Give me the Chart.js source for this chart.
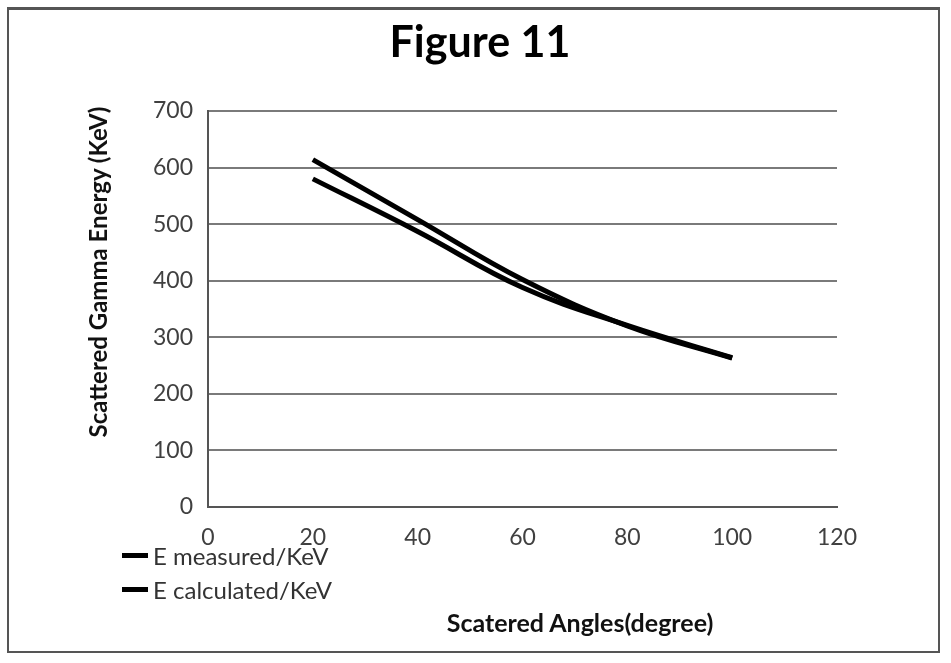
<!DOCTYPE html>
<html>
<head>
<meta charset="utf-8">
<script src="https://cdn.jsdelivr.net/npm/chart.js@4.4.0/dist/chart.umd.min.js"></script>
<style>
  html, body { margin: 0; padding: 0; background: #fff; width: 951px; height: 663px; overflow: hidden; }
  #wrap { position: relative; width: 951px; height: 663px; }
  #frame { position: absolute; left: 7px; top: 7px; width: 933px; height: 646px; border: 2px solid #555; border-top-width: 3px; box-sizing: border-box; }
  canvas { position: absolute; left: 0; top: 0; }
  .t { position: absolute; font-family: Lato, "Open Sans", sans-serif; white-space: nowrap; line-height: 1; }
  #title { left: 480px; top: 40px; font-size: 43px; font-weight: bold; color: #000; transform: translate(-50%, -50%); }
  #ytitle { left: 98px; top: 272px; font-size: 24px; font-weight: bold; color: #111; transform: translate(-50%, -50%) rotate(-90deg); }
  #xtitle { left: 580px; top: 622px; font-size: 25px; font-weight: bold; color: #111; transform: translate(-50%, -50%); }
  .leg { position: absolute; font-family: Lato, "Open Sans", sans-serif; font-size: 24px; line-height: 1; color: #333; white-space: nowrap; transform: translateY(-50%); }
  .sw { position: absolute; width: 26px; height: 5px; background: #000; }
</style>
</head>
<body>
<div id="wrap">
  <canvas id="c" width="951" height="663"></canvas>
  <div id="frame"></div>
  <div class="t" id="title">Figure 11</div>
  <div class="t" id="ytitle">Scattered Gamma Energy (KeV)</div>
  <div class="t" id="xtitle">Scatered Angles(degree)</div>
  <div class="sw" style="left:122px; top:553px;"></div>
  <div class="leg" style="left:153px; top:556px;">E measured/KeV</div>
  <div class="sw" style="left:122px; top:587px;"></div>
  <div class="leg" style="left:153px; top:590px;">E calculated/KeV</div>
</div>
<script>
const angles = [20, 40, 60, 80, 100];
const eMeasured = [580, 487, 388, 321, 264];
const eCalculated = [614, 508, 402, 320, 263];
const seriesNames = ["E measured/KeV", "E calculated/KeV"];
const xTicks = [0, 20, 40, 60, 80, 100, 120];
const yTicks = [0, 100, 200, 300, 400, 500, 600, 700];

const toPts = (vals) => angles.map((a, i) => ({ x: a, y: vals[i] }));

new Chart(document.getElementById('c'), {
  type: 'line',
  data: {
    datasets: [
      { label: seriesNames[0], data: toPts(eMeasured), borderColor: '#000', borderWidth: 5, pointRadius: 0, tension: 0.4, fill: false },
      { label: seriesNames[1], data: toPts(eCalculated), borderColor: '#000', borderWidth: 5, pointRadius: 0, tension: 0.4, fill: false }
    ]
  },
  options: {
    responsive: false,
    animation: false,
    devicePixelRatio: 1,
    layout: { padding: { left: 140, top: 111, right: 114, bottom: 100 } },
    plugins: { legend: { display: false }, title: { display: false }, tooltip: { enabled: false } },
    scales: {
      x: {
        type: 'linear', min: 0, max: 120,
        afterBuildTicks: (s) => { s.ticks = xTicks.map(v => ({ value: v })); },
        afterFit: (s) => { s.height = 663 - 100 - 507; },
        grid: { display: false, drawTicks: false },
        border: { display: true, color: '#555', width: 2 },
        ticks: { padding: 17, color: '#404040', font: { family: 'Lato', size: 23 } }
      },
      y: {
        type: 'linear', min: 0, max: 700,
        afterBuildTicks: (s) => { s.ticks = yTicks.map(v => ({ value: v })); },
        afterFit: (s) => { s.width = 208 - 140; },
        grid: { display: true, drawTicks: false, color: '#7a7a7a', lineWidth: 2 },
        border: { display: true, color: '#555', width: 2 },
        ticks: { padding: 15, color: '#404040', font: { family: 'Lato', size: 23 } }
      }
    }
  }
});
</script>
</body>
</html>
